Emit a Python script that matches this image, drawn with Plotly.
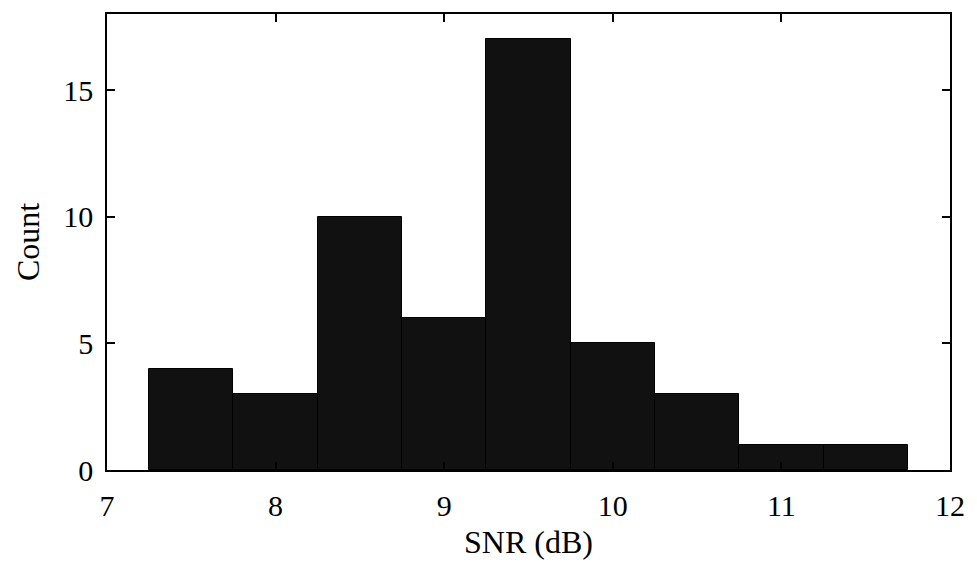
import plotly.graph_objects as go

# Histogram of SNR values: bin centres (dB) and counts per bin
bin_centers = [7.5, 8.0, 8.5, 9.0, 9.5, 10.0, 10.5, 11.0, 11.5]
counts = [4, 3, 10, 6, 17, 5, 3, 1, 1]
bin_width = 0.5

x_ticks = [7, 8, 9, 10, 11, 12]
y_ticks = [0, 5, 10, 15]

serif = "Liberation Serif, Times New Roman, serif"

fig = go.Figure(
    go.Bar(
        x=bin_centers,
        y=counts,
        width=[bin_width] * len(bin_centers),
        marker=dict(color="#111111", line=dict(color="#000000", width=1)),
    )
)

axis_common = dict(
    showline=True,
    linecolor="black",
    linewidth=1.5,
    mirror="ticks",
    ticks="inside",
    ticklen=8,
    tickwidth=1.5,
    tickcolor="black",
    showgrid=False,
    zeroline=False,
    tickfont=dict(family=serif, size=30, color="black"),
)

fig.update_xaxes(
    range=[7, 12],
    tickvals=x_ticks,
    title=dict(text="SNR (dB)", font=dict(family=serif, size=32, color="black"), standoff=10),
    ticklabelstandoff=8,
    **axis_common,
)
fig.update_yaxes(
    range=[0, 18],
    tickvals=y_ticks,
    title=dict(text="Count", font=dict(family=serif, size=32, color="black"), standoff=14),
    ticklabelstandoff=6,
    **axis_common,
)

fig.update_layout(
    width=977,
    height=566,
    margin=dict(l=107, r=22, t=12, b=95),
    plot_bgcolor="white",
    paper_bgcolor="white",
    showlegend=False,
    bargap=0,
)

fig.write_html("out.html")
